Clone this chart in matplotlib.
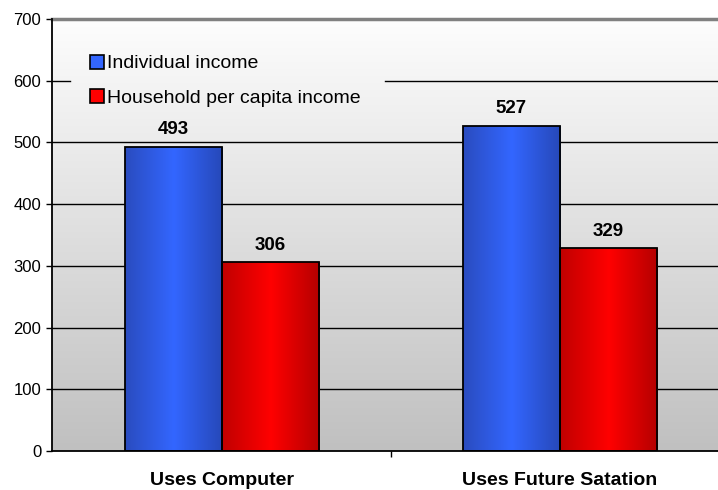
import numpy as np
import matplotlib
matplotlib.use('Agg')
import matplotlib.pyplot as plt
from matplotlib.colors import LinearSegmentedColormap
from matplotlib.patches import Patch

plt.rcParams['font.family'] = ['Liberation Sans', 'DejaVu Sans']

# data
categories = ['Uses Computer', 'Uses Future Satation']
individual = [493, 527]
household = [306, 329]
series_names = ['Individual income', 'Household per capita income']

# gradient colour maps (dark edge -> bright middle -> dark edge)
blue_cm = LinearSegmentedColormap.from_list(
    'blue_bar', [(0, '#2a4cbf'), (0.5, '#3366ff'), (1, '#2648b8')])
red_cm = LinearSegmentedColormap.from_list(
    'red_bar', [(0, '#c00000'), (0.5, '#ff0000'), (1, '#b40000')])
bg_cm = LinearSegmentedColormap.from_list(
    'bg', [(0, '#c0c0c0'), (1, '#fdfdfd')])

fig = plt.figure(figsize=(7.18, 4.9), dpi=100)
ax = fig.add_axes([0.0731, 0.0796, 0.9269, 0.8816])

x = np.arange(len(categories))
w = 0.287
ax.set_xlim(-0.5, 1.467)
ax.set_ylim(0, 700)

# background vertical gradient
grad = np.linspace(0, 1, 256).reshape(-1, 1)
ax.imshow(grad, cmap=bg_cm, aspect='auto', origin='lower',
          extent=[-0.5, 1.467, 0, 700], zorder=0)

# gridlines (600 is broken where the legend sits)
for yv in range(100, 600, 100):
    ax.axhline(yv, color='black', lw=1.0, zorder=1)
ax.axhline(600, xmax=0.026, color='black', lw=1.0, zorder=1)
ax.axhline(600, xmin=0.50, color='black', lw=1.0, zorder=1)

hgrad = np.linspace(0, 1, 256).reshape(1, -1)


def grad_bars(xs, vals, cmap):
    bars = ax.bar(xs, vals, w, facecolor='none', edgecolor='black',
                  linewidth=1.3, zorder=3)
    for b in bars:
        x0, y0 = b.get_x(), b.get_y()
        im = ax.imshow(hgrad, cmap=cmap, aspect='auto', origin='lower',
                       extent=[x0, x0 + b.get_width(), y0, y0 + b.get_height()],
                       zorder=2)
        im.set_clip_path(b)
    for b, v in zip(bars, vals):
        ax.annotate(str(v), (b.get_x() + b.get_width() / 2, v),
                    xytext=(0, 6), textcoords='offset points',
                    ha='center', va='bottom', fontsize=13.5,
                    fontweight='bold', zorder=5)
    return bars


grad_bars(x - w / 2, individual, blue_cm)
grad_bars(x + w / 2, household, red_cm)

# restore limits after imshow
ax.set_xlim(-0.5, 1.467)
ax.set_ylim(0, 700)

# spines
ax.spines['right'].set_visible(False)
ax.spines['top'].set_color('#808080')
ax.spines['top'].set_linewidth(2.5)
for s in ['left', 'bottom']:
    ax.spines[s].set_color('black')
    ax.spines[s].set_linewidth(1.3)
    ax.spines[s].set_zorder(4)

ax.set_yticks(range(0, 701, 100))
ax.tick_params(axis='y', direction='out', length=4, width=1, pad=4,
               labelsize=12)
ax.set_xticks(x)
ax.set_xticklabels(categories, fontsize=14, fontweight='bold')
ax.tick_params(axis='x', which='major', length=0, pad=15)
ax.set_xticks([0.5], minor=True)
ax.tick_params(axis='x', which='minor', direction='out', length=4, width=1)

handles = [Patch(facecolor='#3366ff', edgecolor='black', lw=1.2),
           Patch(facecolor='#ff0000', edgecolor='black', lw=1.2)]
leg = ax.legend(handles, series_names, loc='upper left',
                bbox_to_anchor=(0.028, 0.96), fontsize=14,
                handlelength=0.72, handleheight=0.72, handletextpad=0.2,
                labelspacing=0.85, borderpad=0.45, frameon=False)
leg.set_zorder(6)

fig.savefig('out.png', dpi=100)
